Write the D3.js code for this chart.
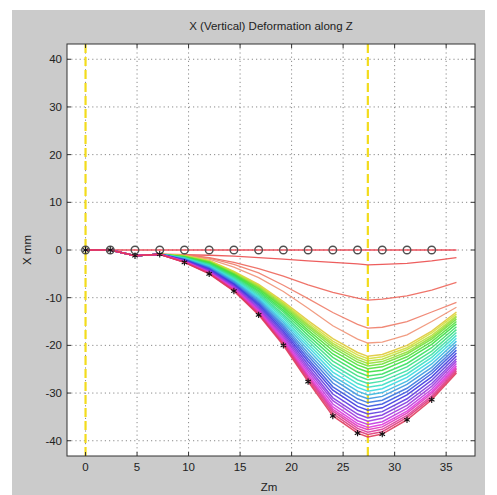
<!DOCTYPE html>
<html>
<head>
  <title>X (Vertical) Deformation along Z</title>
  <script src="https://d3js.org/d3.v7.min.js"></script>
  <style>
    body { margin: 0; background: #fff; }
    text { font-family: "Liberation Sans", Arial, sans-serif; fill: #222; }
  </style>
</head>
<body>
<svg id="chart"></svg>
<script>
  // Z stations (m) where every curve is sampled
  const zStations = [0, 2.4, 4.8, 7.2, 9.6, 12, 14.4, 16.8, 19.2, 21.6, 24, 26.4, 27.4, 28.8, 31.2, 33.6, 36];
  // stations that carry the o / * markers
  const markerZ = [0, 2.4, 4.8, 7.2, 9.6, 12, 14.4, 16.8, 19.2, 21.6, 24, 26.4, 28.8, 31.2, 33.6];
  // yellow reference sections
  const sectionZ = [0, 27.4];

  const xTicks = [0, 5, 10, 15, 20, 25, 30, 35];
  const yTicks = [-40, -30, -20, -10, 0, 10, 20, 30, 40];

  // common start of every deformed curve (Z = 0 .. 7.2)
  const startPart = [0, 0, -1.2, -0.9];

  // the few early, well separated curves (Z = 9.6 .. 36)
  const earlyCurves = [
    [-1.0, -1.1, -1.3, -1.6, -1.9, -2.3, -2.6, -2.9, -3.1, -3.0, -2.8, -2.3, -1.6],
    [-1.0, -1.6, -2.6, -3.9, -5.5, -7.3, -8.9, -10.1, -10.5, -10.3, -9.6, -8.4, -6.8],
    [-1.0, -1.7, -3.0, -4.8, -7.4, -10.2, -13.1, -15.6, -16.4, -16.2, -15.0, -13.0, -11.0],
    [-1.1, -1.9, -3.6, -5.8, -8.7, -12.2, -15.9, -18.7, -19.5, -19.3, -17.8, -15.0, -12.0]
  ];

  // the dense band of later curves (Z = 9.6 .. 36), top (yellow) to bottom (red)
  const bandCurves = [
    [-1.2, -2.2, -4.5, -7.2, -10.8, -14.8, -18.6, -21.5, -22.3, -21.9, -20.0, -17.0, -13.0],
    [-1.2, -2.3, -4.6, -7.4, -11.1, -15.2, -19.1, -22.0, -22.8, -22.4, -20.5, -17.4, -13.4],
    [-1.3, -2.4, -4.7, -7.6, -11.3, -15.6, -19.6, -22.5, -23.3, -22.9, -20.9, -17.9, -13.8],
    [-1.3, -2.5, -4.9, -7.8, -11.6, -15.9, -20.0, -23.0, -23.8, -23.4, -21.4, -18.3, -14.1],
    [-1.4, -2.5, -5.0, -8.0, -11.9, -16.3, -20.5, -23.5, -24.3, -23.9, -21.8, -18.7, -14.5],
    [-1.4, -2.6, -5.1, -8.2, -12.2, -16.8, -21.1, -24.1, -24.9, -24.5, -22.4, -19.2, -15.0],
    [-1.5, -2.8, -5.3, -8.5, -12.6, -17.3, -21.8, -24.8, -25.6, -25.2, -23.0, -19.8, -15.5],
    [-1.5, -2.9, -5.5, -8.8, -13.0, -17.9, -22.5, -25.6, -26.4, -26.0, -23.8, -20.5, -16.1],
    [-1.6, -3.0, -5.7, -9.1, -13.5, -18.5, -23.3, -26.4, -27.2, -26.7, -24.5, -21.2, -16.7],
    [-1.7, -3.1, -5.9, -9.4, -13.9, -19.1, -24.1, -27.2, -28.0, -27.5, -25.3, -21.9, -17.3],
    [-1.7, -3.3, -6.1, -9.7, -14.3, -19.7, -24.8, -28.0, -28.8, -28.3, -26.0, -22.5, -17.9],
    [-1.8, -3.4, -6.3, -10.0, -14.8, -20.3, -25.6, -28.8, -29.6, -29.1, -26.7, -23.2, -18.5],
    [-1.9, -3.5, -6.5, -10.3, -15.2, -20.9, -26.4, -29.6, -30.4, -29.9, -27.5, -23.9, -19.1],
    [-1.9, -3.7, -6.7, -10.6, -15.7, -21.6, -27.1, -30.4, -31.2, -30.7, -28.2, -24.6, -19.8],
    [-2.0, -3.8, -6.9, -10.9, -16.1, -22.2, -27.9, -31.2, -32.0, -31.5, -29.0, -25.3, -20.4],
    [-2.1, -3.9, -7.1, -11.2, -16.5, -22.8, -28.7, -32.0, -32.8, -32.3, -29.7, -25.9, -21.0],
    [-2.1, -4.1, -7.2, -11.5, -17.0, -23.4, -29.4, -32.8, -33.6, -33.1, -30.4, -26.6, -21.6],
    [-2.2, -4.2, -7.4, -11.8, -17.4, -24.0, -30.2, -33.6, -34.4, -33.9, -31.2, -27.3, -22.2],
    [-2.3, -4.3, -7.6, -12.1, -17.8, -24.6, -31.0, -34.4, -35.2, -34.6, -31.9, -28.0, -22.8],
    [-2.3, -4.5, -7.8, -12.4, -18.2, -25.1, -31.6, -35.1, -35.9, -35.3, -32.6, -28.6, -23.3],
    [-2.4, -4.6, -8.0, -12.6, -18.6, -25.6, -32.3, -35.8, -36.6, -36.0, -33.2, -29.2, -23.8],
    [-2.4, -4.7, -8.1, -12.8, -18.9, -26.1, -32.9, -36.4, -37.2, -36.6, -33.8, -29.7, -24.3],
    [-2.5, -4.8, -8.2, -13.0, -19.2, -26.5, -33.4, -36.9, -37.7, -37.1, -34.2, -30.1, -24.7],
    [-2.5, -4.8, -8.4, -13.2, -19.5, -26.8, -33.8, -37.4, -38.2, -37.6, -34.7, -30.6, -25.0],
    [-2.6, -4.9, -8.5, -13.4, -19.7, -27.2, -34.3, -37.9, -38.7, -38.1, -35.1, -31.0, -25.4],
    [-2.6, -5.0, -8.6, -13.6, -20.0, -27.6, -34.8, -38.4, -39.2, -38.6, -35.6, -31.4, -25.8]
  ];

  const W = 497, H = 495;
  const margin = { left: 67, right: 22, top: 44, bottom: 39 };

  const svg = d3.select("#chart").attr("width", W).attr("height", H);

  // grey figure panel
  svg.append("rect").attr("x", 12).attr("y", 10).attr("width", 473).attr("height", H - 10)
    .attr("fill", "#cbcbcb");

  const x = d3.scaleLinear().domain([-1.8, 37.8]).range([margin.left, W - margin.right]);
  const y = d3.scaleLinear().domain([-43.2, 43.2]).range([H - margin.bottom, margin.top]);

  const x0 = x.range()[0], x1 = x.range()[1], y0 = y.range()[1], y1 = y.range()[0];

  svg.append("rect").attr("x", x0).attr("y", y0).attr("width", x1 - x0).attr("height", y1 - y0)
    .attr("fill", "#fff");

  // dotted grid
  const grid = svg.append("g").attr("stroke", "#8a8a8a").attr("stroke-width", 1)
    .attr("stroke-dasharray", "1.2,3");
  grid.selectAll(".gx").data(xTicks).join("line")
    .attr("x1", d => x(d)).attr("x2", d => x(d)).attr("y1", y0).attr("y2", y1);
  grid.selectAll(".gy").data(yTicks).join("line")
    .attr("y1", d => y(d)).attr("y2", d => y(d)).attr("x1", x0).attr("x2", x1);

  // yellow dashed sections
  svg.append("g").selectAll("line").data(sectionZ).join("line")
    .attr("x1", d => x(d)).attr("x2", d => x(d)).attr("y1", y0).attr("y2", y1)
    .attr("stroke", "#f3dc1c").attr("stroke-width", 2.2).attr("stroke-dasharray", "9,4");

  // build all curves
  const curves = [zStations.map(() => 0)];
  earlyCurves.forEach(c => curves.push(startPart.concat(c)));
  bandCurves.forEach(c => curves.push(startPart.concat(c)));
  const nEarly = earlyCurves.length + 1;

  // reddish for the first curves, then yellow -> green -> cyan -> blue -> magenta -> red
  const earlyHue = d3.scaleLinear().domain([0, nEarly - 1]).range([-5, 14]);
  const earlyLight = d3.scaleLinear().domain([0, nEarly - 1]).range([0.58, 0.7]);
  const bandHue = d3.scaleLinear().domain([0, bandCurves.length - 1]).range([52, 348]);
  function curveColor(i) {
    if (i < nEarly) return d3.hsl(earlyHue(i), 0.8, earlyLight(i)).formatHex();
    const k = i - nEarly;
    return d3.hsl(bandHue(k), 0.72, 0.55).formatHex();
  }

  const line = d3.line().x((d, i) => x(zStations[i])).y(d => y(d));
  svg.append("g").attr("fill", "none").selectAll("path").data(curves).join("path")
    .attr("d", line)
    .attr("stroke", (d, i) => curveColor(i))
    .attr("stroke-width", (d, i) => i < nEarly ? 1.3 : 1.5)
    .attr("stroke-opacity", 0.9);

  // markers: circles on the undeformed line, stars on the last curve
  const last = curves[curves.length - 1];
  svg.append("g").selectAll("circle").data(markerZ).join("circle")
    .attr("cx", d => x(d)).attr("cy", y(0)).attr("r", 3.8)
    .attr("fill", "none").attr("stroke", "#505050").attr("stroke-width", 1.4);
  const star = d3.symbol().type(d3.symbolAsterisk).size(28);
  svg.append("g").selectAll("path").data(markerZ).join("path")
    .attr("d", star)
    .attr("transform", d => `translate(${x(d)},${y(last[zStations.indexOf(d)])})`)
    .attr("fill", "none").attr("stroke", "#111").attr("stroke-width", 1.1);

  // box and inward ticks
  const fmt = d => String(d);
  svg.append("rect").attr("x", x0).attr("y", y0).attr("width", x1 - x0).attr("height", y1 - y0)
    .attr("fill", "none").attr("stroke", "#333").attr("stroke-width", 1);
  const tk = svg.append("g").attr("stroke", "#333").attr("stroke-width", 1);
  xTicks.forEach(t => {
    tk.append("line").attr("x1", x(t)).attr("x2", x(t)).attr("y1", y1).attr("y2", y1 - 4);
    tk.append("line").attr("x1", x(t)).attr("x2", x(t)).attr("y1", y0).attr("y2", y0 + 4);
  });
  yTicks.forEach(t => {
    tk.append("line").attr("y1", y(t)).attr("y2", y(t)).attr("x1", x0).attr("x2", x0 + 4);
    tk.append("line").attr("y1", y(t)).attr("y2", y(t)).attr("x1", x1).attr("x2", x1 - 4);
  });

  svg.append("g").selectAll("text").data(xTicks).join("text")
    .attr("x", d => x(d)).attr("y", y1 + 15).attr("text-anchor", "middle")
    .attr("font-size", 11.5).text(fmt);
  svg.append("g").selectAll("text").data(yTicks).join("text")
    .attr("x", x0 - 5).attr("y", d => y(d) + 4).attr("text-anchor", "end")
    .attr("font-size", 11.5).text(fmt);

  svg.append("text").attr("x", (x0 + x1) / 2).attr("y", 30).attr("text-anchor", "middle")
    .attr("font-size", 11.5).text("X (Vertical) Deformation along Z");
  svg.append("text").attr("x", (x0 + x1) / 2 - 2).attr("y", 491).attr("text-anchor", "middle")
    .attr("font-size", 11.5).text("Zm");
  svg.append("text").attr("transform", `translate(31,${(y0 + y1) / 2}) rotate(-90)`)
    .attr("text-anchor", "middle").attr("font-size", 11.5).text("X mm");
</script>
</body>
</html>
